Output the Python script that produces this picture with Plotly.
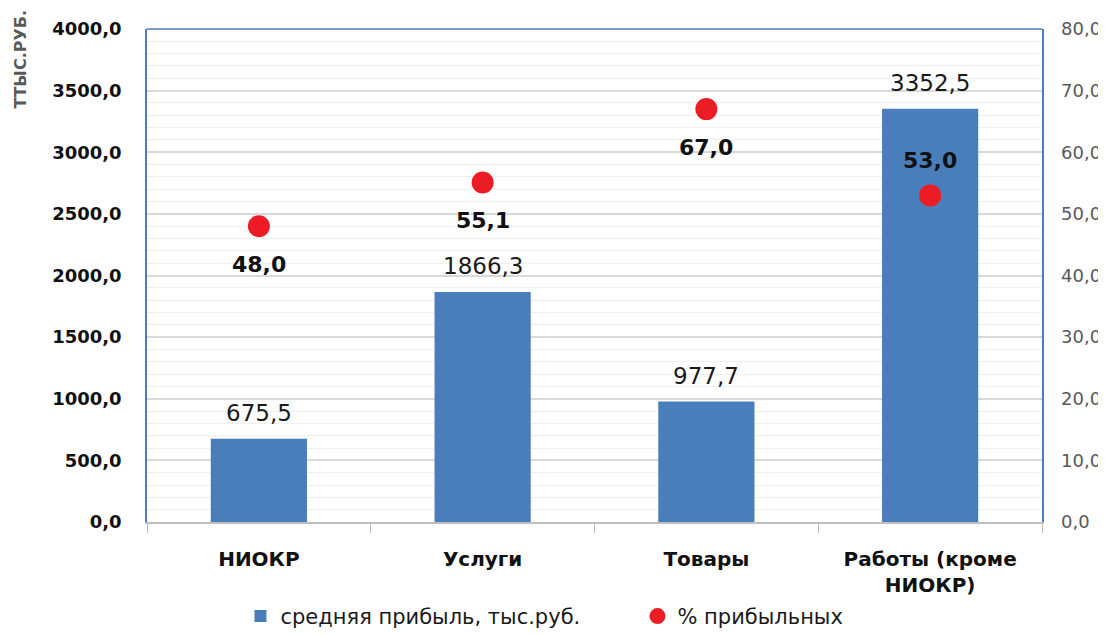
import plotly.graph_objects as go

categories = ["НИОКР", "Услуги", "Товары", "Работы (кроме<br>НИОКР)"]
avg_profit = [675.5, 1866.3, 977.7, 3352.5]
pct_profitable = [48.0, 55.1, 67.0, 53.0]
pct_label_pos = ["below", "below", "below", "above"]

left_ticks = [0, 500, 1000, 1500, 2000, 2500, 3000, 3500, 4000]
right_ticks = [0, 10, 20, 30, 40, 50, 60, 70, 80]

BLUE = "#4a7ebb"
RED = "#ec1c24"
FONT = "DejaVu Sans"

fig = go.Figure()
fig.add_trace(go.Bar(
    x=categories, y=avg_profit, name="средняя прибыль, тыс.руб.",
    marker=dict(color=BLUE, line=dict(width=0)), width=0.43, yaxis="y",
))
fig.add_trace(go.Scatter(
    x=categories, y=pct_profitable, name="% прибыльных", mode="markers",
    marker=dict(color=RED, size=22), yaxis="y2",
))

annotations = []
for c, v in zip(categories, avg_profit):
    annotations.append(dict(x=c, y=v, xref="x", yref="y", text=f"{v:.1f}".replace(".", ","),
                            showarrow=False, yanchor="middle", yshift=26,
                            font=dict(family=FONT, size=23, color="#1a1a1a")))
for c, v, p in zip(categories, pct_profitable, pct_label_pos):
    annotations.append(dict(x=c, y=v, xref="x", yref="y2", text=f"{v:.1f}".replace(".", ","),
                            showarrow=False, yanchor="middle",
                            yshift=-38 if p == "below" else 35,
                            font=dict(family=FONT, size=22, color="#111111", weight="bold")))
annotations.append(dict(x=0, y=1, xref="paper", yref="paper", xshift=-127, yshift=21,
                        text="ТТЫС.РУБ.", textangle=-90, showarrow=False,
                        xanchor="center", yanchor="top",
                        font=dict(family=FONT, size=16, color="#595959", weight="bold")))

fig.update_layout(
    width=1098, height=628,
    margin=dict(l=139, r=64, t=21, b=114, autoexpand=False),
    paper_bgcolor="white", plot_bgcolor="white",
    separators=", ",
    showlegend=True,
    legend=dict(orientation="h", x=0.548, xanchor="center", y=-0.15, yanchor="top",
                font=dict(family=FONT, size=21, color="#1a1a1a"),
                entrywidth=352, entrywidthmode="pixels"),
    xaxis=dict(
        type="category", showline=True, linecolor="#bfbfbf", linewidth=1.5,
        ticks="outside", tickson="boundaries", ticklen=9, tickcolor="#bfbfbf",
        ticklabelstandoff=18,
        tickfont=dict(family=FONT, size=20, color="#111111", weight="bold"),
        showgrid=False,
    ),
    yaxis=dict(
        range=[0, 4000], tickvals=left_ticks, tickformat=".1f",
        showline=True, linecolor=BLUE, linewidth=1.5, mirror=True,
        showgrid=True, gridcolor="#d9d9d9", gridwidth=1.5,
        minor=dict(dtick=100, showgrid=True, gridcolor="#efefef", gridwidth=1),
        ticks="", ticklabelstandoff=20,
        tickfont=dict(family=FONT, size=18, color="#111111", weight="bold"),
        zeroline=False,
    ),
    yaxis2=dict(
        range=[0, 80], tickvals=right_ticks, tickformat=".1f",
        overlaying="y", side="right", showgrid=False, zeroline=False,
        ticks="", ticklabelstandoff=18,
        tickfont=dict(family=FONT, size=18, color="#595959"),
    ),
    annotations=annotations,
    shapes=[dict(type="line", xref="paper", yref="paper", x0=0, x1=1, y0=1, y1=1,
                 line=dict(color=BLUE, width=1.5))],
)

fig.write_html("out.html")
